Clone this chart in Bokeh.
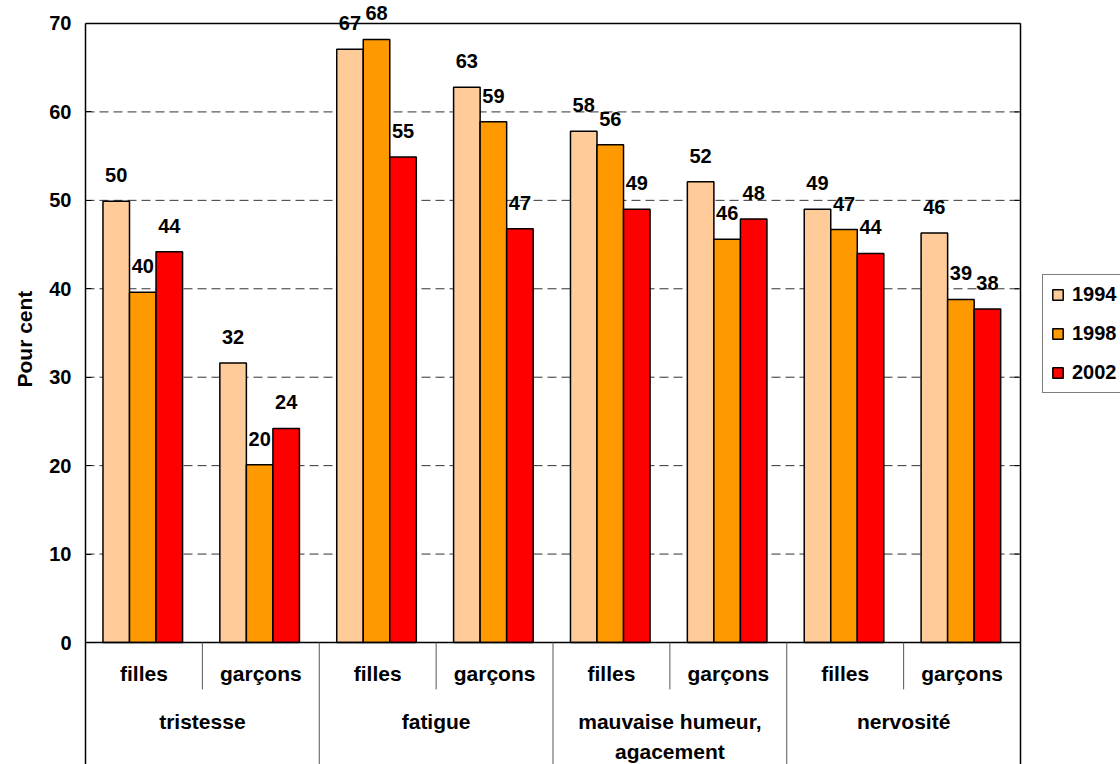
from bokeh.core.properties import value
from bokeh.embed import file_html
from bokeh.models import (ColumnDataSource, FixedTicker, LabelSet, Legend,
                          LegendItem, Range1d, Title)
from bokeh.plotting import figure
from bokeh.resources import INLINE
from bokeh.transform import dodge

# Symptoms (outer level) and sex (inner level)
symptoms = ["tristesse", "fatigue", "mauvaise humeur,\nagacement", "nervosité"]
sexes = ["filles", "garçons"]
years = ["1994", "1998", "2002"]

# Percentages per (symptom, sex), in the order of `symptoms` x `sexes`
pct_1994 = [49.9, 31.6, 67.1, 62.8, 57.8, 52.1, 49.0, 46.3]
pct_1998 = [39.6, 20.1, 68.2, 58.9, 56.3, 45.6, 46.7, 38.8]
pct_2002 = [44.2, 24.2, 54.9, 46.8, 49.0, 47.9, 44.0, 37.7]

y_ticks = [0, 10, 20, 30, 40, 50, 60, 70]
grid_ticks = [10, 20, 30, 40, 50, 60]

colors = ["#FFCC99", "#FF9900", "#FF0000"]
FONT = "Liberation Sans"

series = [pct_1994, pct_1998, pct_2002]
n_slots = len(symptoms) * len(sexes)
n_sex = len(sexes)

data = {"pos": [i + 0.5 for i in range(n_slots)]}
for yr, vals in zip(years, series):
    data[yr] = vals
    data["lbl" + yr] = [f"{v:.0f}" for v in vals]
source = ColumnDataSource(data)

# Frame spans the drawing area, the table below it and the legend at right.
# 116.875 px per slot, 8.843 px per percentage point.
x_px, y_px = 116.875, 8.843
x_range = Range1d(0, 1035 / x_px)
y_range = Range1d(-122 / y_px, 642 / y_px)
y_top = y_ticks[-1]

p = figure(width=1120, height=764, x_range=x_range, y_range=y_range,
           output_backend="svg", toolbar_location=None,
           x_axis_location=None, min_border_left=85, min_border_right=0,
           min_border_top=0, min_border_bottom=0,
           background_fill_color="white", border_fill_color="white",
           outline_line_color=None)
p.xgrid.visible = False
p.ygrid.visible = False

# y axis (left): ticks inwards, line runs from the top border down
yax = p.yaxis[0]
yax.ticker = FixedTicker(ticks=y_ticks)
yax.bounds = (y_range.start, y_top)
yax.major_tick_in = 6
yax.major_tick_out = 0
yax.minor_tick_line_color = None
yax.axis_line_color = "black"
yax.axis_line_width = 1.5
yax.major_tick_line_width = 1
yax.major_label_standoff = 14
yax.major_label_text_font = FONT
yax.major_label_text_font_style = "bold"
yax.major_label_text_font_size = "20px"
yax.major_label_text_color = "black"

p.add_layout(Title(text="Pour cent", align="left", offset=377,
                   vertical_align="top", standoff=17,
                   text_font=FONT, text_font_style="bold",
                   text_font_size="21px", text_color="black"), "left")

# dashed gridlines across the drawing area
p.segment(x0=0, x1=n_slots, y0=grid_ticks, y1=grid_ticks,
          line_color="#333333", line_width=1, line_dash="9 5")

# frame: top border, right border with inward ticks, baseline
tick_len = 6 / x_px
p.segment(x0=0, x1=n_slots, y0=y_top, y1=y_top, line_color="black",
          line_width=1.5)
p.segment(x0=n_slots, x1=n_slots, y0=y_range.start, y1=y_top,
          line_color="black", line_width=1.5)
p.segment(x0=n_slots - tick_len, x1=n_slots, y0=y_ticks, y1=y_ticks,
          line_color="black", line_width=1)

# bars
bar_w = 0.227
offsets = [-0.237, -0.01, 0.217]
renderers = []
for yr, off, col in zip(years, offsets, colors):
    r = p.vbar(x=dodge("pos", off), top=yr, bottom=0, width=bar_w,
               source=source, fill_color=col, line_color="black",
               line_width=1.5)
    renderers.append(r)
    p.add_layout(LabelSet(x=dodge("pos", off), y=yr, text="lbl" + yr,
                          source=source, y_offset=26, text_align="center",
                          text_baseline="middle", text_font=value(FONT),
                          text_font_style="bold", text_font_size="20px",
                          text_color="black"))

p.segment(x0=0, x1=n_slots, y0=0, y1=0, line_color="black", line_width=1.5)

# category table below the bars
sub_src = ColumnDataSource({"x": data["pos"],
                            "t": [s for _ in symptoms for s in sexes]})
p.text(x="x", y=-3.5, text="t", source=sub_src, text_align="center",
       text_baseline="middle", text_font=value(FONT),
       text_font_style="bold", text_font_size="21px", text_color="black")

grp_src = ColumnDataSource({"x": [g * n_sex + n_sex / 2 for g in range(len(symptoms))],
                            "t": symptoms})
p.text(x="x", y=-7.6, text="t", source=grp_src, text_align="center",
       text_baseline="top", text_font=value(FONT), text_font_style="bold",
       text_font_size="21px", text_color="black", text_line_height=1.3)

inner = [g * n_sex + 1 for g in range(len(symptoms))]
p.segment(x0=inner, x1=inner, y0=0, y1=-5.3, line_color="#555555",
          line_width=1)
outer = [g * n_sex for g in range(1, len(symptoms))]
p.segment(x0=outer, x1=outer, y0=0, y1=y_range.start, line_color="#555555",
          line_width=1)

legend = Legend(items=[LegendItem(label=yr, renderers=[r])
                       for yr, r in zip(years, renderers)],
                location=(957, 371), orientation="vertical",
                border_line_color="black", border_line_width=1.5,
                background_fill_color="white", background_fill_alpha=1,
                padding=8, spacing=16, margin=0,
                glyph_width=13, glyph_height=13, label_standoff=8,
                label_height=22, label_width=72,
                label_text_font=FONT, label_text_font_style="bold",
                label_text_font_size="20px", label_text_color="black")
p.add_layout(legend)

open("out.html", "w").write(file_html(p, INLINE))
